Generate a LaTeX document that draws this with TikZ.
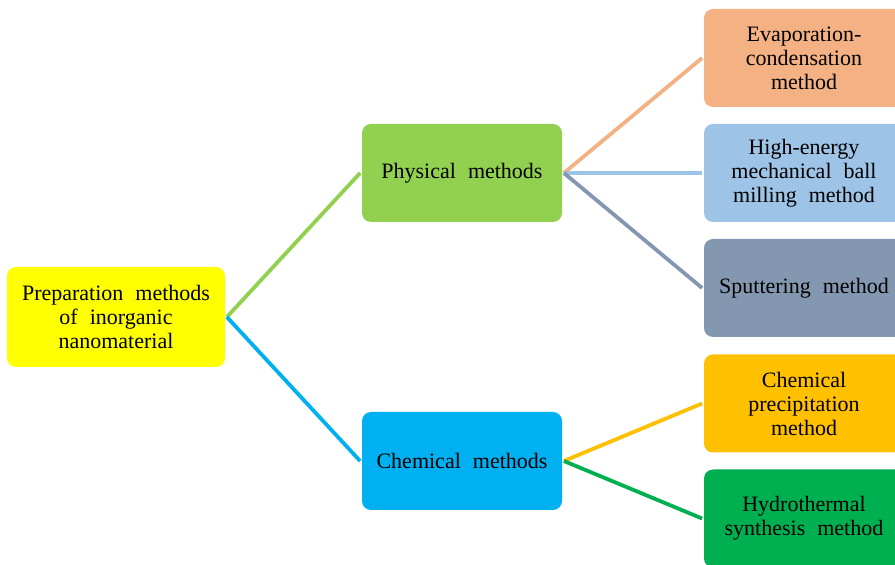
\documentclass[tikz,border=0pt]{standalone}
\usepackage{fontspec}
\setmainfont{Liberation Serif}
\usepackage{xcolor}
\usepackage{tikz}

\definecolor{prepyellow}{HTML}{FFFF00}
\definecolor{physgreen}{HTML}{92D050}
\definecolor{chemblue}{HTML}{00B0F0}
\definecolor{evaporange}{HTML}{F4B183}
\definecolor{millblue}{HTML}{9DC3E6}
\definecolor{sputgray}{HTML}{8497B0}
\definecolor{precipgold}{HTML}{FFC000}
\definecolor{hydrogreen}{HTML}{00B050}

\newcommand{\methodfont}{\fontsize{22}{24}\selectfont\spaceskip=12pt plus 2pt minus 1pt\relax}

\tikzset{
	methodbox/.style={rectangle, rounded corners=9pt, draw=none, align=center,
		minimum width=200pt, minimum height=98pt, inner sep=0pt,
		font=\methodfont},
}

\begin{document}
\begin{tikzpicture}
	[x=1pt, y=1pt, line width=3.8pt, grow'=right,
	edge from parent path={(\tikzparentnode.east) -- (\tikzchildnode.west)},
	level 1/.style={level distance=346pt, sibling distance=288pt},
	level 2/.style={level distance=342pt, sibling distance=115pt}]
	\useasboundingbox (0,0) rectangle (895,565);
	\clip (0,0) rectangle (895,565);
	\node[methodbox, fill=prepyellow, minimum width=218pt, minimum height=100pt] (prep) at (116,248)
		{Preparation methods\\of inorganic\\nanomaterial}
	child {node[methodbox, fill=physgreen] (phys) {Physical methods}
		child {node[methodbox, fill=evaporange] (evap) {Evaporation-\\condensation\\method}
			edge from parent[draw=evaporange]}
		child {node[methodbox, fill=millblue] (mill) {High-energy\\mechanical ball\\milling method}
			edge from parent[draw=millblue]}
		child {node[methodbox, fill=sputgray] (sput) {Sputtering method}
			edge from parent[draw=sputgray]}
		edge from parent[draw=physgreen]
	}
	child {node[methodbox, fill=chemblue] (chem) {Chemical methods}
		child {node[methodbox, fill=precipgold] (precip) {Chemical\\precipitation\\method}
			edge from parent[draw=precipgold]}
		child {node[methodbox, fill=hydrogreen] (hydro) {Hydrothermal\\synthesis method}
			edge from parent[draw=hydrogreen]}
		edge from parent[draw=chemblue]
	};
\end{tikzpicture}
\end{document}
